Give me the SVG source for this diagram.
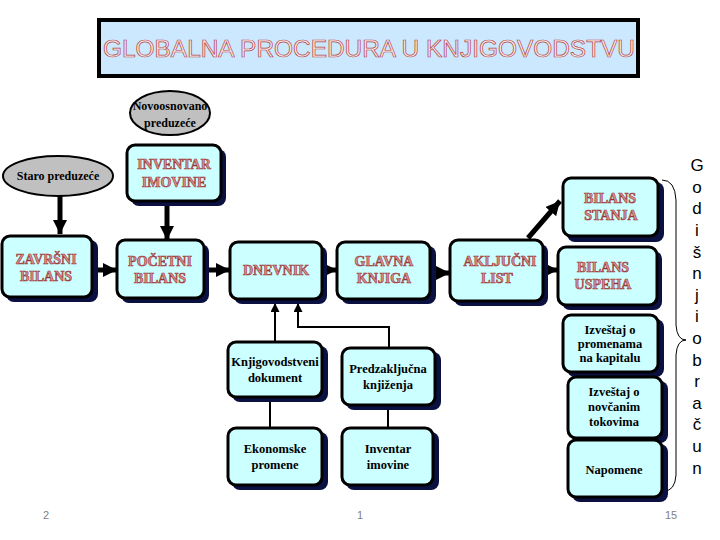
<svg xmlns="http://www.w3.org/2000/svg" width="720" height="540" viewBox="0 0 720 540">
<defs>
<style>
.box{fill:#CCFFFF;stroke:#000;stroke-width:3}
.sh{fill:#0A1040}
.red{font-family:"Liberation Serif",serif;font-weight:bold;font-size:14px;fill:#D89090;stroke:#993333;stroke-width:0.6;text-anchor:middle}
.blk{font-family:"Liberation Serif",serif;font-weight:bold;font-size:12.5px;fill:#000;text-anchor:middle}
.ell{fill:#C0C0C0;stroke:#000;stroke-width:2}
.ellt{font-family:"Liberation Serif",serif;font-weight:bold;font-size:12px;fill:#000;text-anchor:middle}
.thick{stroke:#000;stroke-width:5;fill:none}
.thin{stroke:#000;stroke-width:2;fill:none}
.num{font-family:"Liberation Sans",sans-serif;font-size:11px;fill:#808080;text-anchor:middle}
.vt{font-family:"Liberation Sans",sans-serif;font-size:17px;fill:#000;text-anchor:middle}
</style>
<marker id="ah" viewBox="0 0 10 10" refX="10" refY="5" markerWidth="14" markerHeight="14" markerUnits="userSpaceOnUse" orient="auto">
<path d="M0,0 L10,5 L0,10 z" fill="#000"/>
</marker>
<marker id="ahs" viewBox="0 0 10 10" refX="10" refY="5" markerWidth="9" markerHeight="9" markerUnits="userSpaceOnUse" orient="auto">
<path d="M0,0 L10,5 L0,10 z" fill="#000"/>
</marker>
</defs>
<rect width="720" height="540" fill="#fff"/>

<g id="title">
<rect x="99" y="20" width="539" height="56" fill="#CCE8FF" stroke="#000" stroke-width="4"/>
<text x="369" y="57" font-family="Liberation Sans,Arial,sans-serif" font-size="23" fill="#FBEAEA" stroke="#B04848" stroke-width="0.7" text-anchor="middle" textLength="532" lengthAdjust="spacingAndGlyphs">GLOBALNA PROCEDURA U KNJIGOVODSTVU</text>
</g>

<g id="connectors">
<line class="thick" x1="60" y1="196" x2="60" y2="234" marker-end="url(#ah)"/>
<line class="thick" x1="167" y1="205" x2="167" y2="240" marker-end="url(#ah)"/>
<line class="thick" x1="92" y1="270" x2="117" y2="270" marker-end="url(#ah)"/>
<line class="thick" x1="203" y1="270" x2="230" y2="270" marker-end="url(#ah)"/>
<line class="thick" x1="322" y1="270" x2="337" y2="270" marker-end="url(#ah)"/>
<line class="thick" x1="431" y1="273" x2="450" y2="273" marker-end="url(#ah)"/>
<line class="thick" x1="543" y1="270" x2="558" y2="270" marker-end="url(#ah)"/>
<line class="thick" x1="528" y1="238" x2="560" y2="201" marker-end="url(#ah)"/>
<line class="thin" x1="275" y1="342" x2="275" y2="303" marker-end="url(#ahs)"/>
<polyline class="thin" points="389,348 389,327 298,327 298,303" marker-end="url(#ahs)"/>
<line class="thin" x1="270" y1="397" x2="270" y2="428"/>
<line class="thin" x1="388" y1="405" x2="388" y2="428"/>
<path d="M662,180 Q675,180 676,200 L676,325 Q677,340 686,340 Q677,340 676,355 L676,475 Q675,491 664,491" fill="none" stroke="#000" stroke-width="1"/>
</g>

<g id="novoosnovano">
<ellipse class="ell" cx="170" cy="113" rx="40" ry="22"/>
<text class="ellt" x="170" y="110">Novoosnovano</text>
<text class="ellt" x="170" y="127">preduzeće</text>
</g>
<g id="staro">
<ellipse class="ell" cx="58" cy="176" rx="55" ry="20"/>
<text class="ellt" x="58" y="180" font-size="12.5">Staro preduzeće</text>
</g>

<g id="inventar">
<rect class="sh" x="131" y="149" width="95" height="57" rx="8"/>
<rect class="box" x="127" y="145" width="94" height="56" rx="8"/>
<text class="red" x="174" y="169">INVENTAR</text>
<text class="red" x="174" y="187">IMOVINE</text>
</g>

<g id="zavrsni">
<rect class="sh" x="6" y="240" width="92" height="62" rx="8"/>
<rect class="box" x="2" y="236" width="90" height="61" rx="8"/>
<text class="red" x="46" y="264">ZAVRŠNI</text>
<text class="red" x="46" y="281">BILANS</text>
</g>

<g id="pocetni">
<rect class="sh" x="121" y="244" width="88" height="59" rx="8"/>
<rect class="box" x="117" y="240" width="87" height="58" rx="8"/>
<text class="red" x="160" y="266">POČETNI</text>
<text class="red" x="160" y="283">BILANS</text>
</g>

<g id="dnevnik">
<rect class="sh" x="234" y="246" width="93" height="58" rx="8"/>
<rect class="box" x="230" y="242" width="92" height="57" rx="8"/>
<text class="red" x="276" y="275">DNEVNIK</text>
</g>

<g id="glavna">
<rect class="sh" x="341" y="246" width="95" height="58" rx="8"/>
<rect class="box" x="337" y="242" width="93" height="57" rx="8"/>
<text class="red" x="384" y="266">GLAVNA</text>
<text class="red" x="384" y="283">KNJIGA</text>
</g>

<g id="zakljucni">
<rect class="sh" x="454" y="244" width="94" height="62" rx="8"/>
<rect class="box" x="450" y="240" width="93" height="61" rx="8"/>
<text class="red" x="500" y="266">AKLJUČNI</text>
<text class="red" x="497" y="283">LIST</text>
</g>

<g id="bilans-stanja">
<rect class="sh" x="567" y="182" width="97" height="60" rx="8"/>
<rect class="box" x="563" y="178" width="95" height="58" rx="8"/>
<text class="red" x="610" y="203">BILANS</text>
<text class="red" x="611" y="220">STANJA</text>
</g>

<g id="bilans-uspeha">
<rect class="sh" x="562" y="251" width="100" height="59" rx="8"/>
<rect class="box" x="558" y="247" width="99" height="58" rx="8"/>
<text class="red" x="603" y="272">BILANS</text>
<text class="red" x="603" y="289">USPEHA</text>
</g>

<g id="knjigovodstveni">
<rect class="sh" x="232" y="346" width="96" height="56" rx="8"/>
<rect class="box" x="228" y="342" width="94" height="55" rx="8"/>
<text class="blk" x="275" y="366">Knjigovodstveni</text>
<text class="blk" x="275" y="382">dokument</text>
</g>

<g id="predzakljucna">
<rect class="sh" x="346" y="352" width="95" height="58" rx="8"/>
<rect class="box" x="342" y="348" width="93" height="57" rx="8"/>
<text class="blk" x="388" y="373">Predzaključna</text>
<text class="blk" x="388" y="389">knjiženja</text>
</g>

<g id="ekonomske">
<rect class="sh" x="232" y="432" width="96" height="58" rx="8"/>
<rect class="box" x="228" y="428" width="94" height="57" rx="8"/>
<text class="blk" x="275" y="453">Ekonomske</text>
<text class="blk" x="275" y="469">promene</text>
</g>

<g id="inventar-imovine">
<rect class="sh" x="346" y="432" width="93" height="58" rx="8"/>
<rect class="box" x="342" y="428" width="91" height="57" rx="8"/>
<text class="blk" x="388" y="453">Inventar</text>
<text class="blk" x="388" y="469">imovine</text>
</g>

<g id="kapital">
<rect class="sh" x="567" y="319" width="97" height="58" rx="8"/>
<rect class="box" x="563" y="315" width="95" height="57" rx="8"/>
<text class="blk" x="610" y="334">Izveštaj o</text>
<text class="blk" x="610" y="348">promenama</text>
<text class="blk" x="610" y="362">na kapitalu</text>
</g>

<g id="novcani">
<rect class="sh" x="572" y="381" width="96" height="62" rx="8"/>
<rect class="box" x="568" y="377" width="94" height="61" rx="8"/>
<text class="blk" x="614" y="396">Izveštaj o</text>
<text class="blk" x="614" y="411">novčanim</text>
<text class="blk" x="614" y="426">tokovima</text>
</g>

<g id="napomene">
<rect class="sh" x="572" y="444" width="96" height="58" rx="8"/>
<rect class="box" x="568" y="440" width="94" height="57" rx="8"/>
<text class="blk" x="614" y="474">Napomene</text>
</g>

<g id="godisnji">
<text class="vt" x="697" y="171">G</text>
<text class="vt" x="697" y="193">o</text>
<text class="vt" x="697" y="214">d</text>
<text class="vt" x="697" y="236">i</text>
<text class="vt" x="697" y="258">š</text>
<text class="vt" x="697" y="279">n</text>
<text class="vt" x="697" y="301">j</text>
<text class="vt" x="697" y="322">i</text>
<text class="vt" x="697" y="344">o</text>
<text class="vt" x="697" y="366">b</text>
<text class="vt" x="697" y="387">r</text>
<text class="vt" x="697" y="409">a</text>
<text class="vt" x="697" y="430">č</text>
<text class="vt" x="697" y="452">u</text>
<text class="vt" x="697" y="474">n</text>
</g>

<g id="numbers">
<text class="num" x="46" y="519">2</text>
<text class="num" x="360" y="519">1</text>
<text class="num" x="671" y="519">15</text>
</g>
</svg>
